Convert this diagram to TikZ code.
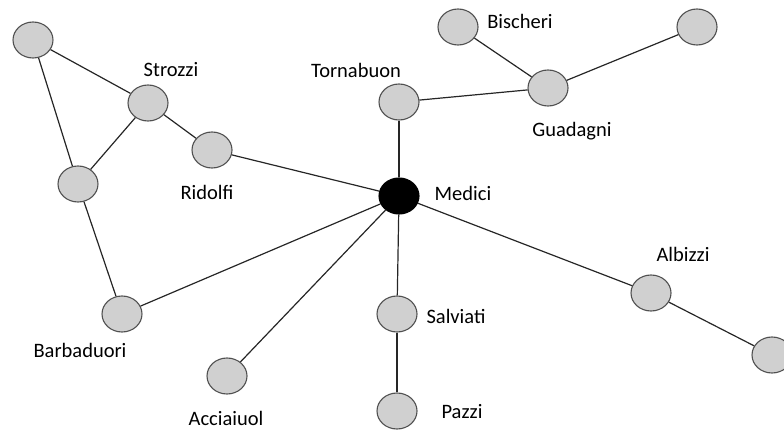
\documentclass[tikz,border=0pt]{standalone}
\usepackage{fontspec}
\setmainfont{Carlito}
\definecolor{famfill}{HTML}{D0D0D0}
\definecolor{famline}{HTML}{505050}
\tikzset{
  fam/.style={ellipse, draw=famline, fill=famfill, line width=1.1pt,
    minimum width=40pt, minimum height=36pt, inner sep=0pt},
  boss/.style={fam, fill=black, draw=black},
  lbl/.style={font=\fontsize{20.5}{24}\selectfont, inner sep=0pt},
  tie/.style={line width=1.2pt, draw=black!85}
}
\usetikzlibrary{shapes.geometric}
\begin{document}
\begin{tikzpicture}[x=1pt,y=-1pt]
\useasboundingbox (0,0) rectangle (784,430);
%	families
\node[fam] (tl) at (33,40) {};
\node[fam] (strozzi) at (148,103) {};
\node[fam] (ridolfi) at (212,150) {};
\node[fam] (ml) at (78,184) {};
\node[fam] (barbaduori) at (122,314) {};
\node[fam] (acciaiuol) at (227,376) {};
\node[boss] (medici) at (399,196) {};
\node[fam] (tornabuon) at (399,102) {};
\node[fam] (salviati) at (397,314) {};
\node[fam] (pazzi) at (397,411) {};
\node[fam] (guadagni) at (548,88) {};
\node[fam] (bischeri) at (458,27) {};
\node[fam] (tr) at (697,27) {};
\node[fam] (albizzi) at (651,293) {};
\node[fam] (br) at (772,355) {};

%	names
\node[lbl] (lstrozzi) at (171,70) {Strozzi};
\node[lbl] (lridolfi) at (207,192) {Ridolfi};
\node[lbl] (ltornabuon) at (356,70) {Tornabuon};
\node[lbl] (lbischeri) at (520,21) {Bischeri};
\node[lbl] (lguadagni) at (572,131) {Guadagni};
\node[lbl] (lmedici) at (463,193) {Medici};
\node[lbl] (lalbizzi) at (683,254) {Albizzi};
\node[lbl] (lsalviati) at (456,316) {Salviati};
\node[lbl] (lbarbaduori) at (80,350) {Barbaduori};
\node[lbl] (lacciaiuol) at (226,418) {Acciaiuol};
\node[lbl] (lpazzi) at (462,412) {Pazzi};

\foreach \a/\b in {tl/strozzi, tl/ml, strozzi/ml, strozzi/ridolfi,
  ridolfi/medici, ml/barbaduori, barbaduori/medici, acciaiuol/medici,
  medici/tornabuon, tornabuon/guadagni, guadagni/bischeri, guadagni/tr,
  medici/salviati, salviati/pazzi, medici/albizzi, albizzi/br}{
\draw[tie] (\a) -- (\b);
}

\end{tikzpicture}
\end{document}
